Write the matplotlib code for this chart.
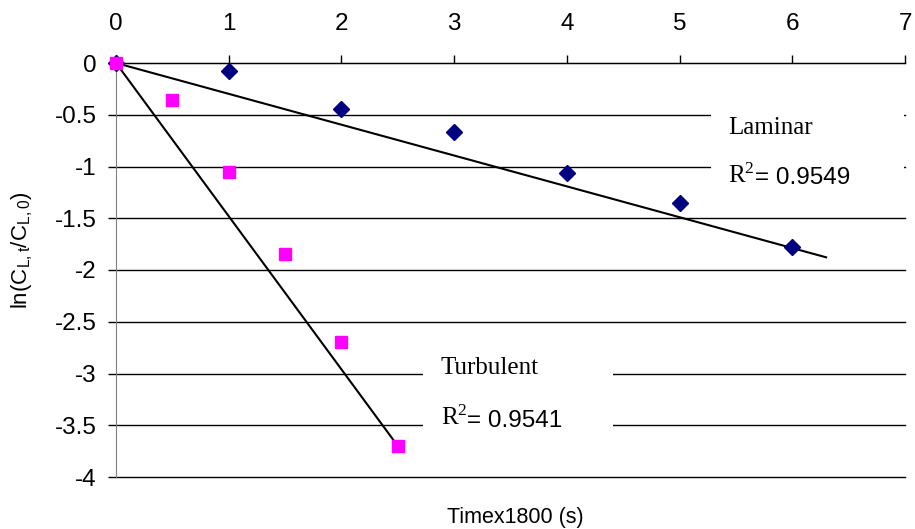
import numpy as np
import matplotlib
matplotlib.use("Agg")
import matplotlib.pyplot as plt
from matplotlib.patches import Rectangle

# values
lam_x = [0, 1, 2, 3, 4, 5, 6]
lam_y = [0, -0.08, -0.44, -0.67, -1.06, -1.35, -1.78]
turb_x = [0, 0.5, 1, 1.5, 2, 2.5]
turb_y = [0, -0.36, -1.05, -1.85, -2.70, -3.70]

# trendlines (through origin), slope and end point
lam_slope, lam_xend = -0.298, 6.3
turb_slope, turb_xend = -1.48, 2.52

lam_r2 = "0.9549"
turb_r2 = "0.9541"

sans = ["Liberation Sans", "DejaVu Sans"]
serif = ["Liberation Serif", "DejaVu Serif"]
plt.rcParams["font.family"] = sans
plt.rcParams["mathtext.default"] = "regular"

fig = plt.figure(figsize=(9.15, 5.29), dpi=100)
ax = fig.add_axes([116/915, 1-477/529, (905-116)/915, (477-63)/529])

ax.set_xlim(0, 7)
ax.set_ylim(-4, 0)
ax.set_xticks(range(8))
ax.set_yticks(np.arange(-4, 0.01, 0.5))
ax.set_yticklabels(["-4", "-3.5", "-3", "-2.5", "-2", "-1.5", "-1", "-0.5", "0"])
ax.xaxis.tick_top()
ax.tick_params(axis="both", direction="out", length=6, width=1, labelsize=17.5,
               color="black")
ax.tick_params(axis="x", pad=14)
ax.tick_params(axis="y", pad=8)
for s in ["right", "bottom"]:
    ax.spines[s].set_visible(False)
ax.spines["left"].set_color("#808080")
ax.spines["top"].set_color("black")

ax.set_axisbelow(True)
ax.yaxis.grid(True, color="black", linewidth=1)
for gl in ax.get_ygridlines():
    gl.set_clip_on(False)

# white label boxes hiding the gridlines behind the text
ax.add_patch(Rectangle((5.28, -1.35), 6.99-5.28, 0.95, facecolor="white",
                       edgecolor="none", zorder=1))
ax.add_patch(Rectangle((2.72, -3.85), 4.41-2.72, 1.2, facecolor="white",
                       edgecolor="none", zorder=1))

ax.plot([0, lam_xend], [0, lam_slope*lam_xend], color="black", lw=1.5, zorder=3)
ax.plot([0, turb_xend], [0, turb_slope*turb_xend], color="black", lw=1.5, zorder=3)

ax.plot(lam_x, lam_y, "D", color="#000080", markersize=8, zorder=4,
        clip_on=False)
ax.plot(turb_x, turb_y, "s", color="#ff00ff", markersize=9, zorder=4,
        clip_on=False)

def label(x, y, dy, name, r2):
    ax.text(x, y, name, family=serif, fontsize=18, va="center", zorder=5)
    t = ax.text(x, y - dy, "R$^{2}$", family=serif, fontsize=18,
                va="center", zorder=5)
    ax.annotate("= " + r2, xy=(1, 0), xycoords=t, va="bottom", ha="left",
                fontsize=17.5, family=sans, zorder=5,
                xytext=(0, -1), textcoords="offset points")

label(5.43, -0.63, 0.46, "Laminar", lam_r2)
label(2.88, -2.95, 0.48, "Turbulent", turb_r2)

fig.text(22/915, 1-250/529, "ln(C$_{L,t}$/C$_{L,0}$)", rotation=90,
         ha="center", va="center", fontsize=16)
fig.text(515/915, 1-517/529, "Timex1800 (s)", ha="center", va="center",
         fontsize=15.5)

fig.savefig("out.png", dpi=100)
